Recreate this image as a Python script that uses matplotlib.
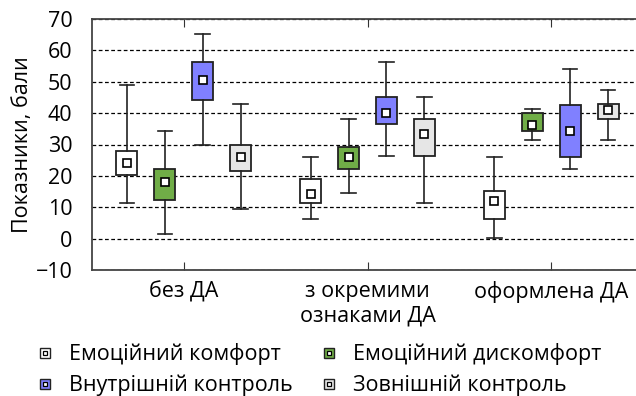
import matplotlib
matplotlib.use("Agg")
import matplotlib.pyplot as plt
import numpy as np
from matplotlib.lines import Line2D
from matplotlib.legend_handler import HandlerTuple

plt.rcParams["font.family"] = ["Open Sans", "DejaVu Sans"]

groups = ["без ДА", "з окремими\nознаками ДА", "оформлена ДА"]
series = ["Емоційний комфорт", "Емоційний дискомфорт",
          "Внутрішній контроль", "Зовнішній контроль"]
colors = ["#ffffff", "#70ad47", "#8080ff", "#e6e6e6"]

# per series: rows are groups
whis_lo = [[11.3, 6.3, 0.1], [1.4, 14.4, 31.4], [30.0, 26.4, 22.2], [9.3, 11.5, 31.4]]
box_lo = [[20.3, 11.3, 6.3], [12.4, 22.2, 34.4], [44.3, 36.4, 25.9], [21.5, 26.4, 38.2]]
centre = [[24.0, 14.2, 12.0], [18.0, 26.1, 36.1], [50.5, 40.1, 34.3], [26.0, 33.4, 41.0]]
box_hi = [[28.0, 19.0, 15.1], [22.3, 29.1, 40.1], [56.2, 45.0, 42.6], [30.0, 38.2, 43.0]]
whis_hi = [[48.9, 26.0, 26.0], [34.3, 38.2, 41.2], [65.2, 56.2, 54.1], [43.0, 45.0, 47.4]]

fig = plt.figure(figsize=(6.36, 3.96), dpi=100)
ax = fig.add_axes([92 / 636, 126 / 396, 551 / 636, 251 / 396])

offsets = [-0.31, -0.103, 0.103, 0.31]
x = np.arange(len(groups))
for i in range(len(series)):
    stats = []
    for g in range(len(groups)):
        stats.append({
            "whislo": whis_lo[i][g], "q1": box_lo[i][g], "med": centre[i][g],
            "q3": box_hi[i][g], "whishi": whis_hi[i][g], "mean": centre[i][g],
            "fliers": [],
        })
    ax.bxp(stats, positions=x + offsets[i], widths=0.115, patch_artist=True,
           showmeans=True, manage_ticks=False,
           boxprops=dict(facecolor=colors[i], edgecolor="#222222", linewidth=1.3),
           whiskerprops=dict(color="#222222", linewidth=1.2),
           capprops=dict(color="#222222", linewidth=1.2),
           capwidths=0.08,
           medianprops=dict(linewidth=0),
           meanprops=dict(marker="s", markersize=5.5, markerfacecolor="white",
                          markeredgecolor="black", markeredgewidth=1.2),
           zorder=3)

ax.set_xlim(-0.5, 2.5)
ax.set_ylim(-10, 70)
ax.set_yticks(np.arange(-10, 71, 10))
ax.set_yticklabels([str(v).replace("-", "\u2212") for v in range(-10, 71, 10)])
ax.set_xticks(x)
ax.set_xticklabels(groups)
ax.tick_params(axis="x", direction="in", top=True, length=6, labelsize=15.5, pad=8, color="#333333")
ax.tick_params(axis="y", length=0, labelsize=15.5, pad=14)
ax.yaxis.grid(True, linestyle=(0, (3, 2)), color="black", linewidth=0.9)
ax.set_axisbelow(True)
for s in ax.spines.values():
    s.set_color("#444444")
    s.set_linewidth(1.3)
ax.set_ylabel("Показники, бали", fontsize=15.5)
ax.yaxis.set_label_coords(-0.107, 0.5)

handles = []
for c in colors:
    outer = Line2D([], [], linestyle="none", marker="s", markersize=6.5,
                   markerfacecolor=c, markeredgecolor="#222222", markeredgewidth=1.0)
    inner = Line2D([], [], linestyle="none", marker="s", markersize=3.0,
                   markerfacecolor="white", markeredgecolor="black", markeredgewidth=0.9)
    handles.append((outer, inner))
order = [0, 2, 1, 3]
fig.legend([handles[k] for k in order], [series[k] for k in order], ncol=2,
           loc="lower left", bbox_to_anchor=(0.034, -0.05),
           frameon=False, fontsize=15.5, handler_map={tuple: HandlerTuple(ndivide=1, pad=0)},
           handlelength=0.4, handletextpad=0.9, columnspacing=1.5, labelspacing=0.45)

fig.savefig("out.png", dpi=100)
